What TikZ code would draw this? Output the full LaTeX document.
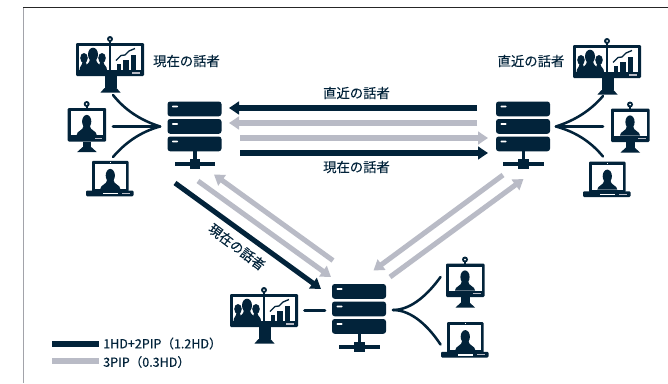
\documentclass[tikz,border=0pt]{standalone}
\usepackage{fontspec}
\setmainfont[RawFeature={embolden=0.25}]{Noto Sans CJK JP}
\usetikzlibrary{arrows.meta}
\definecolor{navy}{HTML}{02233A}
\definecolor{silver}{HTML}{B9BBC6}
\tikzset{
  x=0.75pt,y=-0.75pt,
  label/.style={text=navy,font=\fontsize{10}{12}\selectfont,inner sep=0pt},
  legendtext/.style={text=navy,font=\fontsize{9.4}{11}\selectfont,inner sep=0pt,anchor=west},
  darkarrow/.style={navy,line width=3.8pt,-{Triangle[length=7.5pt,width=9.5pt]}},
  lightarrow/.style={silver,line width=3.8pt,-{Triangle[length=7.5pt,width=9.5pt]}},
  wire/.style={navy,line width=1.9pt,line cap=round},
  bust/.pic={
    \fill[navy] (0,0) ellipse [x radius=4.6,y radius=6.6];
    \fill[navy] (-10,13.5) .. controls (-10,9) and (-3.5,9.5) .. (-3,4) -- (3,4) .. controls (3.5,9.5) and (10,9) .. (10,13.5) -- cycle;
  },
  widemon/.pic={
    \fill[navy] (33.3,0) rectangle (34.9,-3);
    \fill[navy] (34,-4) circle (3);
    \fill[white] (34,-4) circle (1);
    \fill[navy,rounded corners=0.8pt] (0,0) rectangle (68,33);
    \fill[white] (3,3) rectangle (32.5,27);
    \fill[white] (35,3) rectangle (65,27);
    \fill[navy] (8,15) ellipse [x radius=3.8,y radius=5];
    \fill[navy] (26,15) ellipse [x radius=3.8,y radius=5];
    \fill[navy] (3.5,27) .. controls (3.5,23) and (6,23) .. (6.5,19) -- (10,19) -- (12,27) -- cycle;
    \fill[navy] (31,27) .. controls (31,23) and (28,23) .. (27.5,19) -- (24,19) -- (22,27) -- cycle;
    \fill[white] (12,8) rectangle (22,27);
    \fill[navy] (17,11.5) ellipse [x radius=5,y radius=6.8];
    \fill[navy] (6.5,27) .. controls (6.5,22) and (13,23) .. (14,16) -- (20,16) .. controls (21,23) and (27.5,22) .. (27.5,27) -- cycle;
    \fill[navy] (41,20.5) rectangle (45,27);
    \fill[navy] (47,16.5) rectangle (53,27);
    \fill[navy] (55,12) rectangle (60,27);
    \draw[navy,line width=1pt,line join=round] (40,17.5) -- (45,12.5) -- (49,12) -- (53,8) -- (59,5.5);
    \fill[silver] (56,29.4) rectangle (64,30.6);
    \fill[navy] (28.5,33) rectangle (40.5,45);
    \fill[navy] (28.5,45) -- (40.5,45) -- (44.5,49.5) -- (24.5,49.5) -- cycle;
  },
  smallmon/.pic={
    \fill[navy] (18.2,0) rectangle (19.8,-3);
    \fill[navy] (19,-4) circle (3);
    \fill[white] (19,-4) circle (1);
    \fill[navy,rounded corners=0.8pt] (0,0) rectangle (38.5,33.5);
    \fill[white] (3,3) rectangle (35.5,27);
    \path (19,13.5) pic {bust};
    \fill[silver] (27,29.5) rectangle (34.5,30.7);
    \fill[navy] (15,33.5) rectangle (23.5,39);
    \fill[navy] (15,39) -- (23.5,39) -- (29,44) -- (9.5,44) -- cycle;
  },
  laptopicon/.pic={
    \fill[navy,rounded corners=0.8pt] (0,0) rectangle (36.5,31);
    \fill[white] (2.8,3.2) rectangle (33.7,28.2);
    \fill[white] (17.5,1) rectangle (19,2.2);
    \path (18.3,14.7) pic {bust};
    \fill[navy,rounded corners=0.8pt] (-6,29.8) rectangle (41.5,35.5);
    \fill[white] (10.5,32) rectangle (25.5,33.5);
    \fill[silver] (30,32.2) rectangle (38,33.3);
  },
  rackicon/.pic={
    \fill[navy,rounded corners=2pt] (0,0) rectangle (54,14.8);
    \fill[navy,rounded corners=2pt] (0,17.5) rectangle (54,32.3);
    \fill[navy,rounded corners=2pt] (0,35) rectangle (54,49.8);
    \fill[white,rounded corners=0.6pt] (4.5,4) rectangle (10.5,5.8);
    \fill[white,rounded corners=0.6pt] (4.5,21.5) rectangle (10.5,23.3);
    \fill[white,rounded corners=0.6pt] (4.5,39) rectangle (10.5,40.8);
    \fill[navy] (25.5,49.5) rectangle (29,58);
    \fill[navy] (7,60.5) rectangle (47.5,64.5);
    \fill[navy] (22,57.5) rectangle (32.5,67.5);
  },
}
\begin{document}
\begin{tikzpicture}
\useasboundingbox (0,0) rectangle (668,383);
\fill[white] (0,0) rectangle (668,383);
\draw[silver!60!gray,line width=0.9pt] (23.5,7) -- (23.5,383);
\draw[black!85,line width=0.7pt] (23,7.3) -- (668,7.3);

% anchors
\coordinate (hubA) at (160,126.5);
\coordinate (hubB) at (556,126.5);
\coordinate (hubC) at (393,310);
\coordinate (a1) at (113,95);
\coordinate (a2) at (113,126.5);
\coordinate (a3) at (113,157);
\coordinate (b1) at (603,96);
\coordinate (b2) at (603,126.5);
\coordinate (b3) at (603,156.5);
\coordinate (c1) at (440.5,277);
\coordinate (c2) at (440.5,344.5);
\coordinate (c3) at (304.5,310.5);
\coordinate (c4) at (325,310.5);

% icons
\path (76,43) pic {widemon};
\path (573,45) pic {widemon};
\path (230,294) pic {widemon};
\path (67.7,108) pic {smallmon};
\path (611,108.5) pic {smallmon};
\path (446,263.5) pic {smallmon};
\path (92,160.8) pic {laptopicon};
\path (589,161.5) pic {laptopicon};
\path (447,322) pic {laptopicon};
\path (167.5,101.5) pic {rackicon};
\path (496,101.5) pic {rackicon};
\path (332,284) pic {rackicon};

% fan-in wires
\draw[wire] (a1) .. controls (125,110) and (140,120) .. (hubA);
\draw[wire] (a2) -- (hubA);
\draw[wire] (a3) .. controls (125,143) and (140,132) .. (hubA);
\draw[wire] (b1) .. controls (591,110) and (576,120) .. (hubB);
\draw[wire] (b2) -- (hubB);
\draw[wire] (b3) .. controls (591,142) and (576,132) .. (hubB);
\draw[wire] (c1) .. controls (429,293) and (412,310) .. (hubC);
\draw[wire] (c2) .. controls (429,327) and (412,310) .. (hubC);
\draw[wire] (c3) -- (c4);

% horizontal arrows
\coordinate (h1s) at (477,108); \coordinate (h1e) at (229,108);
\coordinate (h2s) at (477,123); \coordinate (h2e) at (229,123);
\coordinate (h3s) at (240,138); \coordinate (h3e) at (488,138);
\coordinate (h4s) at (240,153); \coordinate (h4e) at (488,153);
\draw[lightarrow] (h2s) -- (h2e);
\draw[lightarrow] (h3s) -- (h3e);
\draw[darkarrow] (h1s) -- (h1e);
\draw[darkarrow] (h4s) -- (h4e);

% diagonal arrows
\coordinate (d1s) at (175,183); \coordinate (d1e) at (321,289);
\coordinate (d2s) at (198,181); \coordinate (d2e) at (331,277);
\coordinate (d3s) at (333,260.5); \coordinate (d3e) at (214,174.5);
\coordinate (d4s) at (503,175); \coordinate (d4e) at (373.5,270.5);
\coordinate (d5s) at (390,277); \coordinate (d5e) at (523.5,179);
\draw[lightarrow] (d2s) -- (d2e);
\draw[lightarrow] (d3s) -- (d3e);
\draw[lightarrow] (d4s) -- (d4e);
\draw[lightarrow] (d5s) -- (d5e);
\draw[darkarrow] (d1s) -- (d1e);

% labels
\node[label] (l1) at (186.5,61) {現在の話者};
\node[label] (l2) at (531,61) {直近の話者};
\node[label] (l3) at (356.5,93) {直近の話者};
\node[label] (l4) at (356.5,167) {現在の話者};
\node[label,rotate=-37] (l5) at (237,247) {現在の話者};

% legend
\coordinate (k1s) at (52,344); \coordinate (k1e) at (99,344);
\coordinate (k2s) at (52,361); \coordinate (k2e) at (99,361);
\draw[navy,line width=3.8pt] (k1s) -- (k1e);
\draw[silver,line width=3.8pt] (k2s) -- (k2e);
\node[legendtext] (t1) at (103,343.5) {1HD+2PIP（1.2HD）};
\node[legendtext] (t2) at (103,362) {3PIP（0.3HD）};
\end{tikzpicture}
\end{document}
